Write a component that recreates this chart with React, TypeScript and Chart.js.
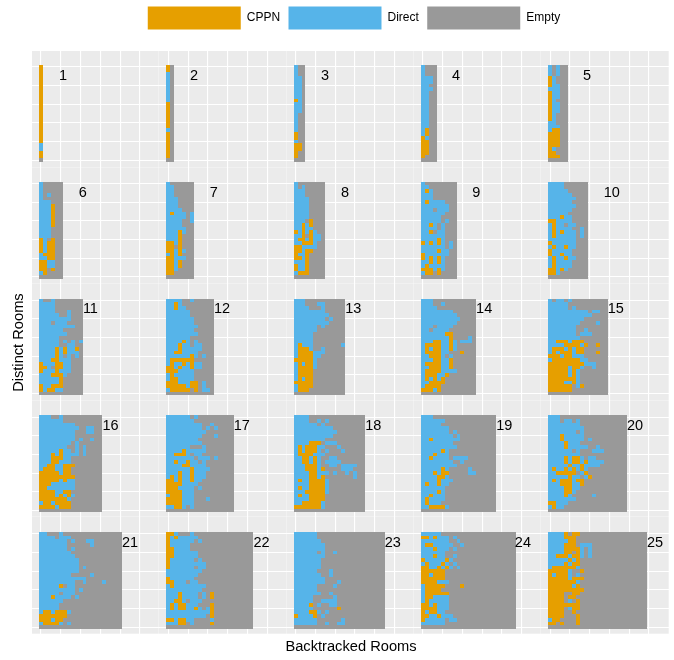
import React, { useEffect, useRef } from "react";
import { Chart, registerables } from "chart.js";

Chart.register(...registerables);

const FONT = "'Liberation Sans', Arial, sans-serif";
const seriesNames = ["CPPN", "Direct", "Empty"];
const seriesCodes = ["C", "D", "E"];
const seriesColors = ["#E69F00", "#56B4E9", "#999999"];
const gridTicksX = [1, 6, 11, 16, 21, 26];
const gridTicksY = [0, 5, 10, 15, 20, 25];
const labelX = [6.57, 7.5, 8.44, 9.37, 10.3, 11.55, 12.5, 13.5, 14.5, 16.56, 13.5, 14.6, 15.6, 16.5, 17.6, 18.6, 19.6, 20.66, 21.6, 22.45, 23.5, 24.6, 25.6, 26.3, 27.5];
const labelY = 22.6;

// Each list runs top row (25) to bottom row (0); columns run left to right; omitted trailing cells are Empty.
const grid1 = ["C","C","C","C","C","C","C","C","C","C","C","C","C","C","C","C","C","C","C","C","C","D","D","C","C",""];
const grid2 = ["C","C","D","D","D","D","D","D","D","D","C","C","C","C","C","C","C","D","C","C","C","C","C","C","C",""];
const grid3 = ["D","D","D","DD","DD","DD","DD","DD","DD","CD","DD","DD","DD","D","D","D","D","D","C","C","D","CC","CC","C","C",""];
const grid4 = ["D","D","D","DDD","DDD","DD","DDD","DD","DD","DD","DD","DD","DD","DD","DD","DD","DD","DC","DC","CD","CC","CC","CC","CC","C",""];
const grid5 = ["DED","DED","DED","CD","CD","CDD","DDD","CDD","CDD","CD","CDD","CDD","CDD","CD","CD","DD","DDD","DCC","CCC","CCC","CCC","CCC","CD","CC","CCC",""];
const grid6 = ["D","D","D","DED","D","DDD","DDDC","DDDC","DDDC","DDDC","DDDC","DDDC","DDD","DDD","DDD","CDEC","CDCC","CDCC","CDCC","DCCC","DDCC","CCDD","CCDD","CCEC","DC",""];
const grid7 = ["D","DD","DD","DD","DDD","DDD","DDD","DDDD","DCDDDED","DDDDDED","DDDDEED","DDDD","DDDDD","DDDCD","DDDC","DDDC","CCDC","CCEC","CCDCD","DCDC","CCDDD","CCDC","CCDC","CCD","CC",""];
const grid8 = ["D","DED","DDD","DDD","DDDD","DDDD","DDDD","DDDD","DDDD","DDDD","DDDEC","DDCDC","DDCDD","CDCDCD","DDCECDD","DCCDCDD","DDCCCD","CCDDDD","CCDCC","CDDC","CCDC","DDDC","CDDC","CDDC","DCCC",""];
const grid9 = ["D","DD","DCD","DDD","DDD","DCDDDD","DDDDDDD","DDDEDDD","DDDDDD","DDDDD","DDDDDED","DDCDED","DDDDED","DDCEDD","DDDDDD","DDDDCD","CDCDCDED","DDDDDDED","DDDDCDD","CDDDDDD","CDCDCD","DDCDCD","DCDDDD","CCCDCD","DCCEC",""];
const grid10 = ["DDDD","DDDD","DDDDD","DDDDDD","DDDDDDD","DDDDDD","DDDDDDD","DDDDDD","DDDDD","DDDCDD","CCDDDD","DCDDEDD","DCDDDDEEDE","DCDCDDDEDE","DCDDDDDEDE","DDDDDDD","CDDDDDD","DCDDCDD","CDDDDD","CDDCDD","DCDDCDD","DCDDDD","DCDDDD","CCDCD","CCD",""];
const grid11 = ["DEED","DDDD","DDDD","DDDDEEED","DDDDDEED","DDDDDDDD","DDDEDDD","DDDDDDDDD","DDDDDD","DDDDDDD","DDDDD","DDDDDEDEDED","DDDDDEEDD","DDDDCDCDDC","DDDDCDCDDD","DDDDCDEDED","DDDCCDDD","CDDDCCDD","CCDECCDD","CDDDCDDD","DDDCCCD","DDDDDC","DDDDDC","CDDCCC","CDCCDD",""];
const grid12 = ["DDDDEED","DDCD","DDCDD","DDDDDD","DDDDDD","DDDDDDD","DDDDDDD","DDDDDDDD","DDDDDDD","DDDDDDDD","DDDDDD","DDDDCDED","DDDCDDEDD","DDDCDDDDD","DDCCDDDD","DDDDDDCDED","DCCCCCC","DCDDCDCDD","CCDCDDCDD","CCCDDDD","DCDDDDD","DCCDDDD","CCCDDDCCED","CCCCCDCCED","DCCCCCECEDD",""];
const grid13 = ["DDD","DDDEEEDD","DDDDEEED","DDDDDDDD","DDDDDDDDD","DDDDDDDDED","DDDDDDDDD","DDDDDDED","DDDDDD","DDDDD","DDDDD","DDDDD","DCDDDEEEEEEED","DCCCDEED","DCCCCDDD","DCCCCDD","CCCCCD","DCDCCD","DCCCCD","DCCCC","DCCCC","DCDCC","CCCCC","DCCCC","DCCC",""];
const grid14 = ["DDD","DDDEED","DDDD","DDDDDDDD","DDDDDDDDD","DDDDDDDDDD","DDDDDDDDD","DDDEDDDD","DDEDDDD","DDDDDDCC","DDDDDDDCEEEEDE","DDDCCDDCDEDDD","DCCCCDDCD","DCDCCDDCD","DCCCCDDEEEC","DDCCCDED","DDDCCDDC","DCCCCDDC","DDCCCDDC","DCCCCDDDD","DCCCDDC","DCDCDC","DDCCCC","DCCCC","CCCDCE",""];
const grid15 = ["DEDDED","DDDDD","DDDDDED","DDDDDDDDDDEDD","DDDDDDDDDDD","DDDDDDDDD","DDDDDDDDEEEED","DDDDDDD","DDDDDDDEED","DDDDDDDEDDD","DDDDDDDD","DDCCCDCCC","DDDDCCCCDCEEC","DCCCDCDCC","DCDCCCDCCEEEC","CCCDCCDDD","DCCCCCCCDD","CCCCCCCCCDDD","CCCCCDCCDEED","CCCCCDCD","CCCCCDCD","CCCCCCCD","CCCCDDCD","CCCCCCEDC","CCCCCC",""];
const grid16 = ["DDDEED","DDDDDD","DDDDDDDDD","DDDDDDDDDDEEDD","DDDDDDDDDEEEDD","DDDDDDDDD","DDDDDDDDDEDEED","DDDDDDDDED","DDDDDDDEEDED","DDDDDCDDEDED","DDDCDCDDDDED","DDDCCCDD","DDDCCDDD","DDCCDDCCC","DCCCDDCC","CCCCCDCC","CCCCCCCCC","CCCCCDCDD","CCCDDDDDD","CCDDDDDDD","CCCCDDCC","CCCCDCDCD","CCCCCCCD","DCCDCCCC","CCCCDCCC",""];
const grid17 = ["DDDDDDED","DDDDDDD","DDDDDDDDDEED","DDDDDDDDDEDED","DDDDDDDDDD","DDDDDDDDDEEED","DDDDDDDD","DDDDDDDDD","DDDDDDEEED","DDDDCDDDDD","DDCCCDEDD","DDDDDDDEDDDED","DDCDDCDDED","DDDDCCDDDD","DDDDDDCDDDD","DDDCDDCDDD","DCDCDDCDDD","CCDCDDCDD","CCCCDDDD","CCCDDDDED","CCCCDDD","DCCCDDD","CCCCDDDEEED","CCCCDDD","DDCCDED",""];
const grid18 = ["DDDD","DDDDEEDED","DDDDDDED","DDDDDDDDDD","DDDDDDDDDDD","DDDDDDDDDD","DDDDDDDD","DDDDCCCEDDD","DCDCCCDDEEED","DCDCCCDEDEEED","DCCCCDDD","DDCCDCDEEDD","DDCCDCDEDDDD","DDDCCCDEEDDEDDDD","DDDCCCDCEEEEDDD","DDDDCCDDDEDEEDED","DDDDCCDCEEEEEEED","DCDDCCCCD","DDDDCCCCD","DCDDCCCCD","DDDCCCCCD","DCDDCCCC","DDDDCCCC","DDCCCCCD","CCCCCCCD",""];
const grid19 = ["DDD","DDDDDD","DDDDD","DDDDDDD","DDDDDDDED","DDDDDDDDED","DDCDDDDDDD","DDDDDDDD","DDDDDDDDD","DDDDDCD","DDDCDDD","DDCDDDDEDDDD","DDDDDDDDEED","DDDDDDDDD","DDDDDCDEEEEED","DDDCDCCEEEEEDD","DDDDCCD","DDDDCDDD","DCDDCDD","DDDDDD","DDDDCD","DDCDDD","DCDDDD","DCDDD","DDCCCCD",""];
const grid20 = ["DDD","DDDEDDED","DDDDDDDD","DDDDDDDDD","DDDDDDDED","DDDCDDDDD","DDDCDDDDDED","DDDDCDDD","DDDDCDDDDDEED","DDDDDDEDEEEDDD","DDDDDDDD","DDDDCDCCDEDD","DDDDCDCCDCDDDD","DDDDDCDDCDDDD","DCDDCDCDCD","DDCCCCCEDC","DDDDDCDDEDC","DCDCCCDCC","DDDCCCDDC","DDDDCCDD","DDDDCCD","DDDDCDEEEEED","DDDDDDD","CCDDD","DCDD",""];
const grid21 = ["DDEEED","DDDDEDDD","DDDDDDDEDEEEDD","DDDDDDDEEEEEED","DDDDDDDED","DDDDDDDD","DDDDDDDDD","DDDDDDDDDD","DDDDDDDDDD","DDDDDDDDDDED","DDDDDDDDDD","DDDDDDDDEEEEED","DDDDDDDDDDDD","DDDDDDDDDEEDEEEED","DDDDDCEDD","DDDDDDDDDED","DDDDDEDDD","DDDCDDDDED","DDDDDD","DDDDD","DDDDD","DCCDCCCD","CCCCCCC","CCCDCC","DCCCCDED",""];
const grid22 = ["CCDEEED","CDCDDDDD","CDDDDDDEDE","CDDDDD","CCDDDD","CCDDDDDD","CCDDDDDD","CDDDDDDED","CDDDDDDDDD","CDDDDDDEDD","DDDDDDDDD","DDDDDDDD","CDDDDDD","CCDDDEDD","DCDDDDDDDD","DDDDDDDDD","DDDCDDDDEDEC","DDDCDDDDEDEC","DDCCDEDDD","DCDCCDDDEEEC","DCDCCDDCDEDC","DDDDDDDDDDDC","DDDDDDDDDDEC","CCDCCDDEEEED","DDDCCEDEEEEC",""];
const grid23 = ["DDDDDD","DDDDDD","DDDDDDD","DDDDDDDD","DDDDDDDD","DDDDDDEDEED","DDDDDDDD","DDDDDDD","DDDDDDD","DDDDDDD","DDDDDDEEED","DDDDDDDEED","DDDDDDDD","DDDDDDDDEEED","DDDDDDEEEED","DDDDDD","DDDDDDDEED","DDDDDEEEEED","DDDDDEEDDDD","DDDDCEDEEDD","DDDDDEEEEEEC","DDDDCCDED","CDDDDCED","DDDDDDEEEEEED","DDDDDDEEDEEDD",""];
const grid24 = ["DDDDD","CCDCDDDED","DDDDDDDEED","DCCDDDDDEED","DDDCDDDED","DDDDDD","DDDCDDEED","CDDDDDCDE","DCDDDCDED","CCDDCDCDED","CCCCCC","CCDCCC","CCCCCC","CCCCDDD","DCCCCCEEEEC","DCCCC","DCCCCCC","DCCDDDD","DCDDDDD","CCDCDDD","CCCCDDD","CDCCDD","CCDDCDDD","CDDDDDEDD","DDDDDD",""];
const grid25 = ["DDDDCECC","DDDDCCC","DDDDDCC","DDDDCCCEDDD","DDDDCCCCDED","DDDDCCECDED","DDCCCDCCDED","DDDDDCDC","DDDDCDCC","DCCCCCCD","CCCCCDEEC","CDCCCDED","CCCCCDCCC","CCCCCCCD","CCCCCCDC","CCCCCCCCC","CCCCEECC","CCCCECC","CCCCEDEC","CCCCCCCC","CCCCEDCC","CCCCEEC","CCCCEEEC","DCCEEEEC","CCECEEEC",""];
const grids = [grid1, grid2, grid3, grid4, grid5, grid6, grid7, grid8, grid9, grid10, grid11, grid12, grid13, grid14, grid15, grid16, grid17, grid18, grid19, grid20, grid21, grid22, grid23, grid24, grid25];

const UNIT_X = 3.953;
const UNIT_Y = 3.73;
const ROWS = 26;

function cellsFor(index: number, code: string) {
  const rows = grids[index];
  const cols = index + 1;
  const out: { x: number; y: [number, number] }[] = [];
  for (let r = 0; r < ROWS; r++) {
    const row = (rows[r] ?? "").trim().padEnd(cols, "E");
    for (let c = 0; c < cols; c++) {
      if (row[c] === code) out.push({ x: c + 1, y: [ROWS - 1 - r - 0.5, ROWS - 1 - r + 0.5] });
    }
  }
  return out;
}

function Panel({ index }: { index: number }) {
  const ref = useRef<HTMLCanvasElement>(null);
  const col = index % 5;
  const row = Math.floor(index / 5);
  const left = Math.round(32 + 127.3 * col);
  const right = Math.round(32 + 127.3 * (col + 1));
  const top = Math.round(51 + 116.6 * row);
  const bottom = Math.round(51 + 116.6 * (row + 1));
  const toX = (px: number) => 1 + (px - (41 + 127.3 * col)) / UNIT_X;
  const toY = (px: number) => 25.5 - (px - (65 + 116.75 * row)) / UNIT_Y;
  useEffect(() => {
    const chart = new Chart(ref.current!, {
      type: "bar",
      data: {
        datasets: seriesCodes.map((code, s) => ({
          label: seriesNames[s],
          data: cellsFor(index, code) as any,
          backgroundColor: seriesColors[s],
          borderWidth: 0,
          barThickness: UNIT_X,
          grouped: false,
          inflateAmount: 0,
        })),
      },
      options: {
        animation: false,
        responsive: false,
        events: [],
        layout: { padding: 0 },
        plugins: { legend: { display: false }, tooltip: { enabled: false } },
        scales: {
          x: {
            type: "linear",
            min: toX(left),
            max: toX(right),
            offset: false,
            afterBuildTicks: (a: any) => { a.ticks = gridTicksX.map((value) => ({ value })); },
            ticks: { display: false },
            border: { display: false },
            grid: { color: "#ffffff", lineWidth: 1.1, drawTicks: false, offset: false },
          },
          y: {
            type: "linear",
            min: toY(bottom),
            max: toY(top),
            afterBuildTicks: (a: any) => { a.ticks = gridTicksY.map((value) => ({ value })); },
            ticks: { display: false },
            border: { display: false },
            grid: { color: "#ffffff", lineWidth: 1.1, drawTicks: false },
          },
        },
      },
      plugins: [
        {
          id: "panelBack",
          beforeDraw(c: any) {
            const { ctx, width, height } = c;
            ctx.save();
            ctx.fillStyle = "#EBEBEB";
            ctx.fillRect(0, 0, width - 0.3, height - 0.3);
            ctx.restore();
          },
        },
        {
          // Snap each cell's edges to whole pixels, so that touching cells leave no seam.
          id: "snapCells",
          beforeDatasetsDraw(c: any) {
            c.getSortedVisibleDatasetMetas().forEach((meta: any) => {
              meta.data.forEach((el: any) => {
                const l = Math.round(el.x - el.width / 2);
                const r = Math.round(el.x + el.width / 2);
                const t = Math.round(Math.min(el.y, el.base));
                const b = Math.round(Math.max(el.y, el.base));
                el.x = (l + r) / 2;
                el.width = r - l;
                el.y = t;
                el.base = b;
                el.height = b - t;
              });
            });
          },
        },
        {
          id: "panelLabel",
          afterDatasetsDraw(c: any) {
            const { ctx, scales } = c;
            ctx.save();
            ctx.fillStyle = "#000000";
            ctx.font = `14.5px ${FONT}`;
            ctx.textAlign = "center";
            ctx.textBaseline = "middle";
            ctx.fillText(String(index + 1), scales.x.getPixelForValue(labelX[index]), scales.y.getPixelForValue(labelY));
            ctx.restore();
          },
        },
      ],
    } as any);
    return () => chart.destroy();
  }, []);
  return (
    <canvas
      ref={ref}
      width={right - left}
      height={bottom - top}
      style={{ position: "absolute", left, top, width: right - left, height: bottom - top, display: "block" }}
    />
  );
}

function AxisTitles() {
  const ref = useRef<HTMLCanvasElement>(null);
  useEffect(() => {
    const title = (text: string, padding: any) => ({
      display: true,
      text,
      color: "#000000",
      font: { family: FONT, size: 14.67, lineHeight: 1.2 },
      padding,
    });
    const chart = new Chart(ref.current!, {
      type: "bar",
      data: { labels: [], datasets: [] },
      options: {
        animation: false,
        responsive: false,
        events: [],
        layout: { padding: { left: 10, top: 47, bottom: 4.2, right: 0 } },
        plugins: { legend: { display: false }, tooltip: { enabled: false } },
        scales: {
          x: {
            ticks: { display: false },
            border: { display: false },
            grid: { display: false, drawTicks: false },
            title: title("Backtracked Rooms", { top: 0, bottom: 0 }),
          },
          y: {
            ticks: { display: false },
            border: { display: false },
            grid: { display: false, drawTicks: false },
            title: title("Distinct Rooms", { top: 0, bottom: 0.4 }),
          },
        },
      },
    } as any);
    return () => chart.destroy();
  }, []);
  return <canvas ref={ref} width={674} height={660} style={{ position: "absolute", left: 0, top: 0, display: "block" }} />;
}

function LegendChart() {
  const ref = useRef<HTMLCanvasElement>(null);
  useEffect(() => {
    const chart = new Chart(ref.current!, {
      type: "bar",
      data: {
        labels: [],
        datasets: seriesNames.map((name, s) => ({ label: name, data: [], backgroundColor: seriesColors[s], borderWidth: 0 })),
      },
      options: {
        animation: false,
        responsive: false,
        events: [],
        scales: { x: { display: false }, y: { display: false } },
        plugins: {
          tooltip: { enabled: false },
          legend: {
            display: true,
            position: "top",
            onClick: null,
            labels: {
              boxWidth: 93,
              boxHeight: 23,
              padding: 8.4,
              color: "#000000",
              font: { family: FONT, size: 12 },
            },
          },
        },
      },
    } as any);
    return () => chart.destroy();
  }, []);
  return <canvas ref={ref} width={430} height={100} style={{ position: "absolute", left: 139, top: -2, display: "block" }} />;
}

export default function App() {
  return (
    <div style={{ position: "absolute", left: 0, top: 0, width: 674, height: 660, overflow: "hidden", background: "#ffffff" }}>
      <AxisTitles />
      <LegendChart />
      {grids.map((_, i) => (
        <Panel key={i} index={i} />
      ))}
    </div>
  );
}
